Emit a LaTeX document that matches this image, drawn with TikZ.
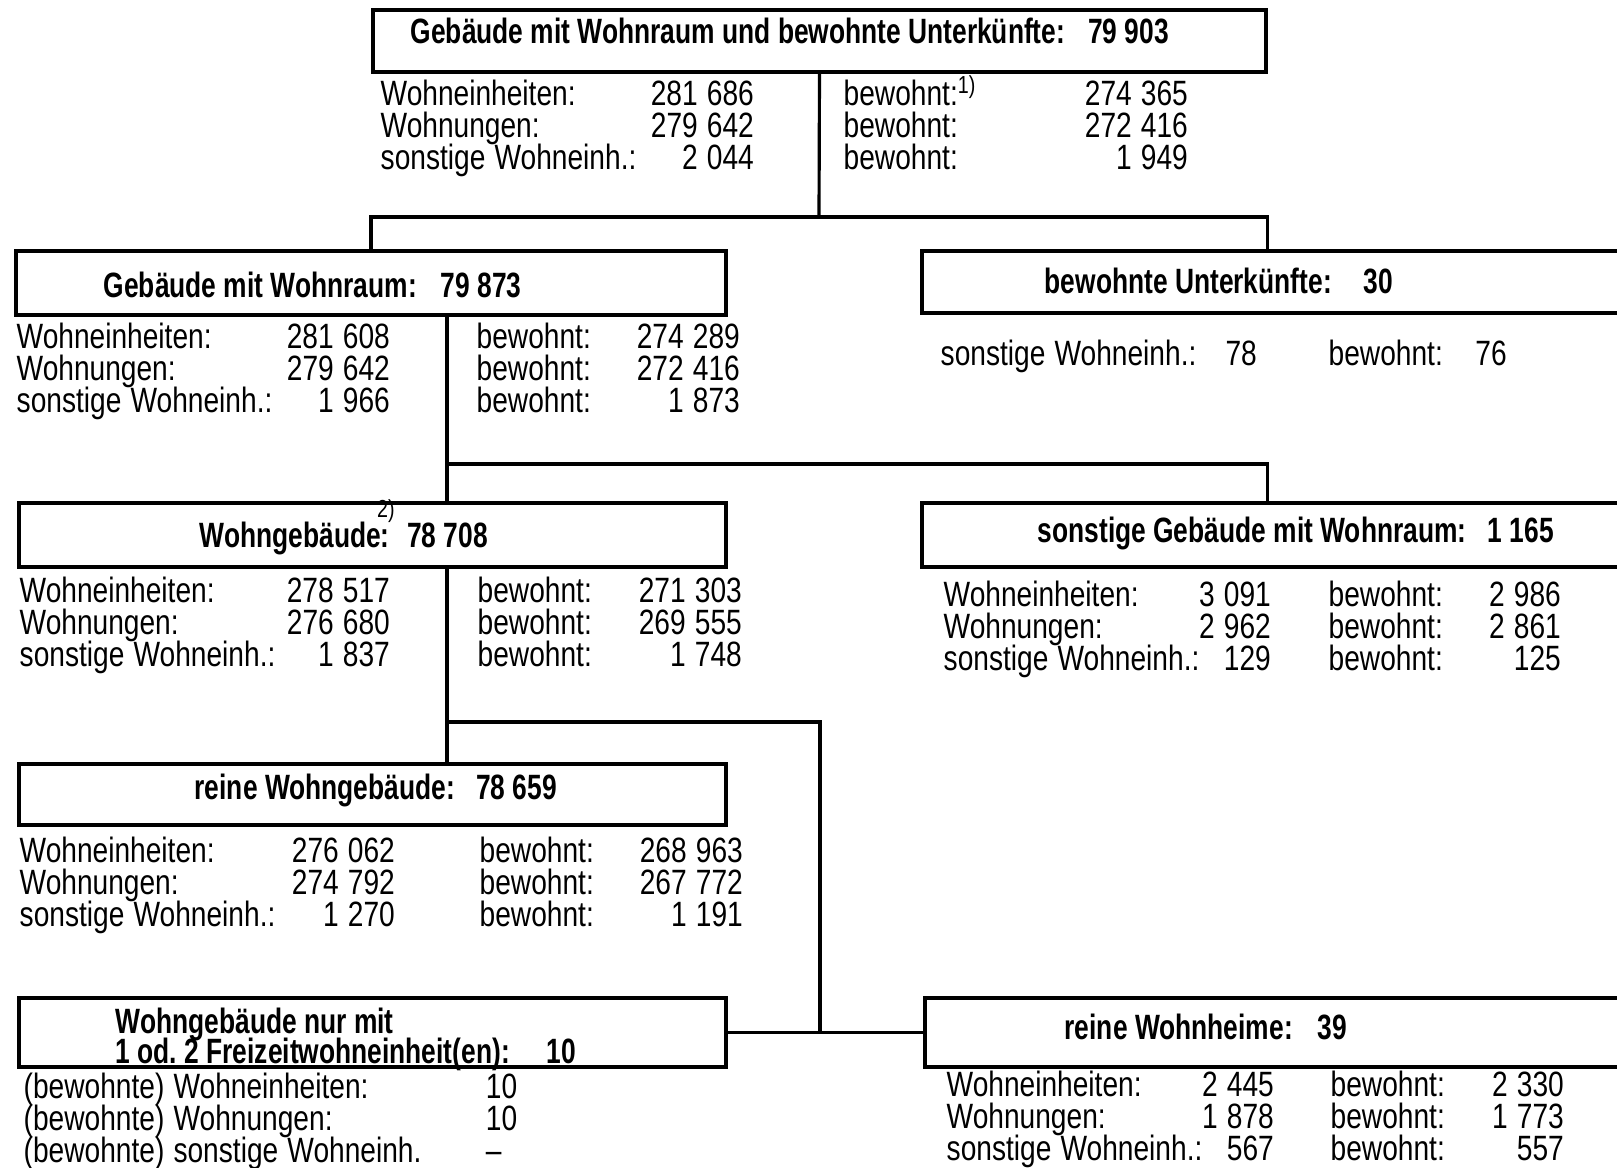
\documentclass[tikz,border=0pt]{standalone}
\usepackage{fontspec}
\setmainfont{Liberation Sans}[FakeStretch=0.8]
\newfontfamily\titlefont{Liberation Sans}[FakeStretch=0.75]
\usetikzlibrary{calc}
\usetikzlibrary{positioning,fit}

\begin{document}
\begin{tikzpicture}
    [x=0.01cm,y=-0.01cm,
     box/.style={draw,line width=0.9pt,inner sep=0pt},
     title/.style={font={\fontsize{10}{8.5}\titlefont\bfseries\frenchspacing\lineskiplimit=-5pt},anchor=west,inner sep=0pt,align=left},
     data/.style={font={\fontsize{10}{9}\selectfont\lineskiplimit=-5pt},anchor=base west,inner sep=0pt,
                  execute at begin node={\spaceskip=2.6pt\relax}},
     link/.style={line width=0.9pt}]

    % top
    \node[box,fit={(373,10) (1266,72)}] (all) {};
    \node[title] (alltitle) at (410,31) {Gebäude mit Wohnraum und bewohnte Unterkünfte:\hspace{6.5pt}79 903};
    \node[data,text width=3.73cm] (allL) at (380,106)
        {Wohneinheiten:\hfill 281~686\\ Wohnungen:\hfill 279~642\\ sonstige Wohneinh.:\hfill 2~044};
    \node[data,text width=3.44cm] (allR) at (843,106)
        {bewohnt:\textsuperscript{1)}\hfill 274~365\\ bewohnt:\hfill 272~416\\ bewohnt:\hfill 1~949};

    % level 2
    \node[box,fit={(16,251) (726,315)}] (gwr) {};
    \node[title] (gwrtitle) at (103,285) {Gebäude mit Wohnraum:\hspace{6.8pt}79 873};
    \node[data,text width=3.73cm] (gwrL) at (16,349)
        {Wohneinheiten:\hfill 281~608\\ Wohnungen:\hfill 279~642\\ sonstige Wohneinh.:\hfill 1~966};
    \node[data,text width=2.63cm] (gwrR) at (476,349)
        {bewohnt:\hfill 274~289\\ bewohnt:\hfill 272~416\\ bewohnt:\hfill 1~873};

    \node[box,fit={(922,251) (1625,313)}] (unterk) {};
    \node[title] (unterktitle) at (1044,281) {bewohnte Unterkünfte:\hspace{9pt}30};
    \node[data,text width=3.16cm] (unterkL) at (940,366) {sonstige Wohneinh.:\hfill 78};
    \node[data,text width=1.78cm] (unterkR) at (1328,366) {bewohnt:\hfill 76};

    % level 3
    \node[box,fit={(19,503) (726,567)}] (wgeb) {};
    \node[title] (wgebtitle) at (199,538) {Wohngebäude:\hspace{5pt}78 708};
    \node[font=\fontsize{7}{8}\selectfont,inner sep=0pt] (fn2) at (386,511) {2)};
    \node[data,text width=3.70cm] (wgebL) at (19,603)
        {Wohneinheiten:\hfill 278~517\\ Wohnungen:\hfill 276~680\\ sonstige Wohneinh.:\hfill 1~837};
    \node[data,text width=2.64cm] (wgebR) at (477,603)
        {bewohnt:\hfill 271~303\\ bewohnt:\hfill 269~555\\ bewohnt:\hfill 1~748};

    \node[box,fit={(922,503) (1625,567)}] (sonst) {};
    \node[title] (sonsttitle) at (1037,534) {sonstige Gebäude mit Wohnraum:\hspace{6pt}1 165};
    \node[data,text width=3.27cm] (sonstL) at (943,607)
        {Wohneinheiten:\hfill 3~091\\ Wohnungen:\hfill 2~962\\ sonstige Wohneinh.:\hfill 129};
    \node[data,text width=2.32cm] (sonstR) at (1328,607)
        {bewohnt:\hfill 2~986\\ bewohnt:\hfill 2~861\\ bewohnt:\hfill 125};

    % level 4
    \node[box,fit={(19,764) (726,825)}] (reinwg) {};
    \node[title] (reinwgtitle) at (194,790) {reine Wohngebäude:\hspace{6pt}78 659};
    \node[data,text width=3.75cm] (reinwgL) at (19,863)
        {Wohneinheiten:\hfill 276~062\\ Wohnungen:\hfill 274~792\\ sonstige Wohneinh.:\hfill 1~270};
    \node[data,text width=2.63cm] (reinwgR) at (479,863)
        {bewohnt:\hfill 268~963\\ bewohnt:\hfill 267~772\\ bewohnt:\hfill 1~191};

    % level 5
    \node[box,fit={(19,998) (726,1067)}] (fzw) {};
    \node[title] (fzwtitle) at (115,1039) {Wohngebäude nur mit\\ 1 od. 2 Freizeitwohneinheit(en):\hspace{10.5pt}10};
    \node[data,text width=5.2cm] (fzwL) at (23,1099)
        {\makebox[4.62cm][l]{(bewohnte) Wohneinheiten:}10\\
         \makebox[4.62cm][l]{(bewohnte) Wohnungen:}10\\
         \makebox[4.62cm][l]{(bewohnte) sonstige Wohneinh.}--};

    \node[box,fit={(925,998) (1625,1067)}] (heime) {};
    \node[title] (heimetitle) at (1064,1027) {reine Wohnheime:\hspace{7pt}39};
    \node[data,text width=3.27cm] (heimeL) at (946,1097)
        {Wohneinheiten:\hfill 2~445\\ Wohnungen:\hfill 1~878\\ sonstige Wohneinh.:\hfill 567};
    \node[data,text width=2.33cm] (heimeR) at (1330,1097)
        {bewohnt:\hfill 2~330\\ bewohnt:\hfill 1~773\\ bewohnt:\hfill 557};

    % connectors
    \coordinate (j1) at (819,217);
    \draw[link] (all.south) -- (j1);
    \draw[link] (gwr.north) |- (j1) -| (all.east |- unterk.north);

    \coordinate (j2) at (447,464);
    \draw[link] (gwr.south -| j2) -- (wgeb.north -| j2);
    \draw[link] (j2) -| (all.east |- sonst.north);

    \coordinate (j3) at (447,722);
    \coordinate (j4) at (820,722);
    \draw[link] (wgeb.south -| j3) -- (reinwg.north -| j3);
    \draw[link] (j3) -- (j4) -- (j4 |- fzw.east);
    \draw[link] (fzw.east) -- (heime.west);

    \pgfresetboundingbox
    \useasboundingbox (0,0) rectangle (1617,1168);
\end{tikzpicture}
\end{document}
